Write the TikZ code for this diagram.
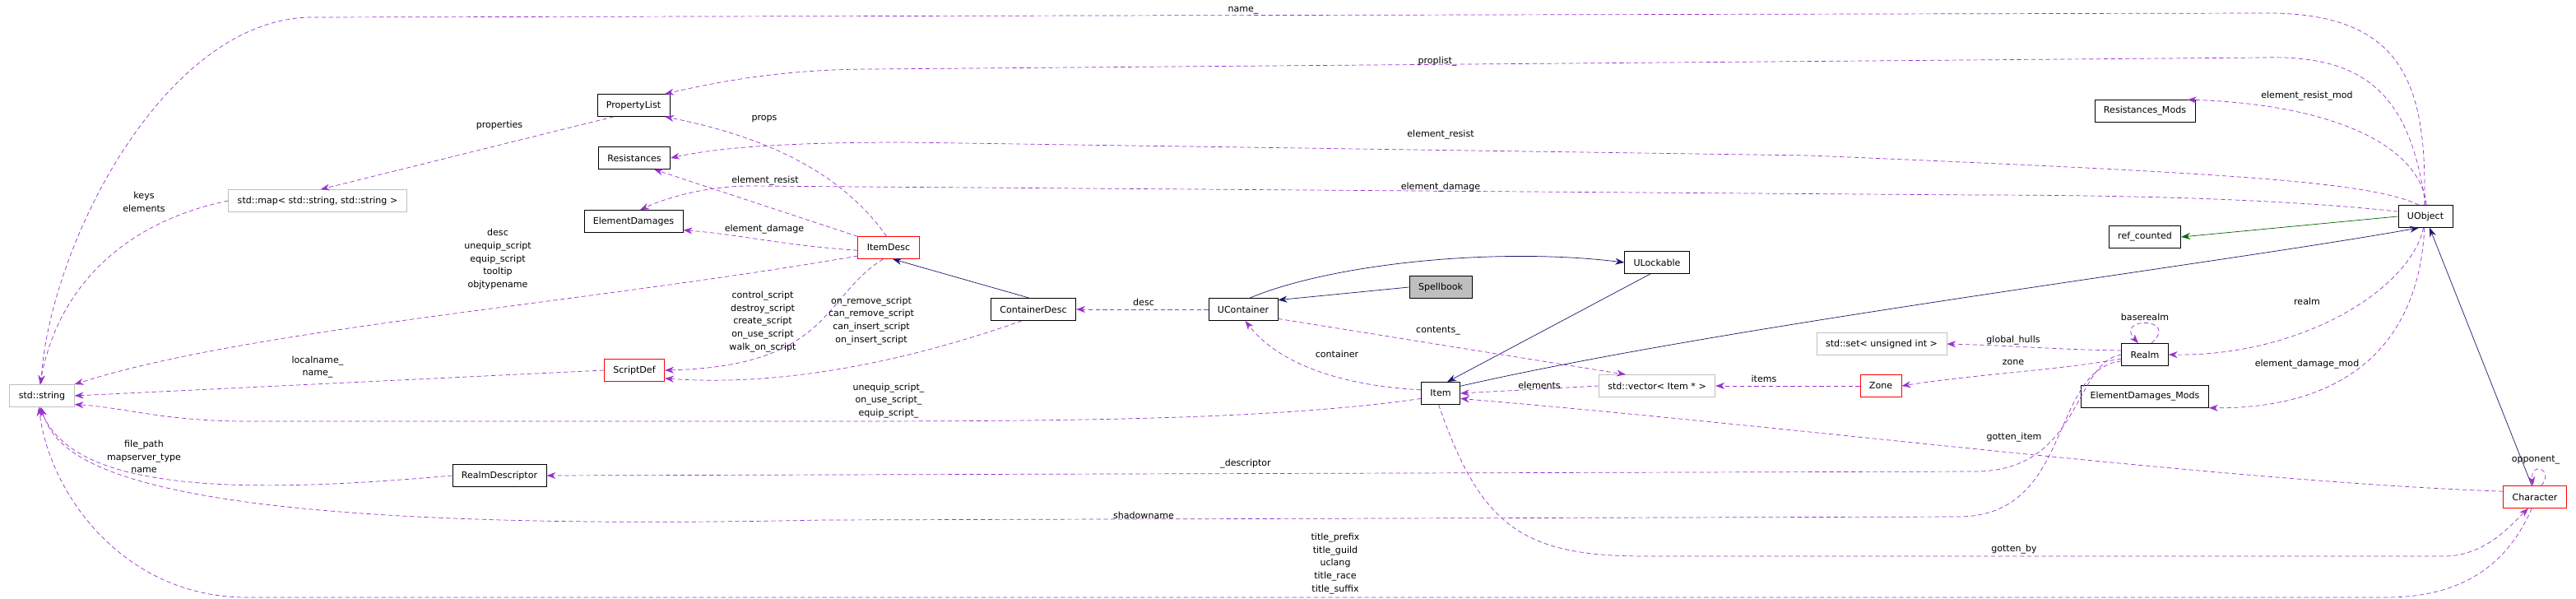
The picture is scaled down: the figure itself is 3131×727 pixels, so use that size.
\documentclass[tikz,border=0pt]{standalone}
\usepackage{fontspec}
\setmainfont{DejaVu Sans}
\usetikzlibrary{arrows.meta}
\definecolor{dep}{HTML}{9A32CD}
\definecolor{inh}{HTML}{191970}
\definecolor{tmpl}{HTML}{006400}
\tikzset{
  box/.style={draw,fill=white,inner xsep=0.22cm,minimum height=0.54cm,font=\fontsize{6.3}{9}\selectfont},
  lbl/.style={align=center,inner sep=0pt,font=\fontsize{6.3}{9}\selectfont},
  uses/.style={dep,dash pattern=on 3pt off 2pt,-{Stealth[length=0.22cm,width=0.16cm]}},
  isa/.style={inh,-{Stealth[length=0.22cm,width=0.16cm]}},
}
\newcommand{\cls}[4]{\node[box] (#1) at (#2,#3) {#4};}
\newcommand{\redcls}[4]{\node[box,draw=red] (#1) at (#2,#3) {#4};}
\newcommand{\stdcls}[4]{\node[box,draw=black!25] (#1) at (#2,#3) {#4};}
\newcommand{\lab}[4]{\node[lbl] (#1) at (#2,#3) {#4};}
\begin{document}
\begin{tikzpicture}[x=0.02cm,y=-0.02cm]
    \useasboundingbox (0,0) rectangle (3131,727);
    \stdcls{stdstring}{51}{481}{std::string}
    \cls{PropertyList}{770}{128}{PropertyList}
    \cls{Resistances}{771}{192}{Resistances}
    \stdcls{stdmap}{386}{244}{std::map< std::string, std::string >}
    \cls{ElementDamages}{770}{269}{ElementDamages}
    \redcls{ItemDesc}{1080}{301}{ItemDesc}
    \redcls{ScriptDef}{771}{450}{ScriptDef}
    \cls{RealmDescriptor}{607}{578}{RealmDescriptor}
    \cls{ContainerDesc}{1256}{376}{ContainerDesc}
    \cls{UContainer}{1511}{376}{UContainer}
    \node[box,fill=black!25] (Spellbook) at (1751,349) {Spellbook};
    \cls{ULockable}{2014}{319}{ULockable}
    \cls{Item}{1751}{478}{Item}
    \stdcls{stdvector}{2014}{469}{std::vector< Item * >}
    \cls{ResistancesMods}{2607}{135}{Resistances\_Mods}
    \cls{UObject}{2948}{263}{UObject}
    \cls{refcounted}{2607}{288}{ref\_counted}
    \stdcls{stdset}{2287}{418}{std::set< unsigned int >}
    \cls{Realm}{2607}{431}{Realm}
    \redcls{Zone}{2286}{469}{Zone}
    \cls{ElementDamagesMods}{2607}{482}{ElementDamages\_Mods}
    \redcls{Character}{3081}{604}{Character}

    % inheritance
    \draw[isa] (ContainerDesc.110) -- (ItemDesc.-70);
    \draw[isa] (UContainer.60) .. controls (1620,320) and (1820,300) .. (ULockable.west);
    \draw[isa] (Spellbook.west) -- (UContainer.15);
    \draw[isa] (ULockable.-120) -- (Item.60);
    \draw[isa] (Item.20) .. controls (2100,395) and (2700,320) .. (UObject.-120);
    \draw[isa] (Character.105) -- (UObject.-70);
    \draw[tmpl,-{Stealth[length=0.22cm,width=0.16cm]}] (UObject.west) -- (refcounted.east);

    % members
    \draw[uses] (UObject.95) .. controls (2950,100) and (2920,14) .. (2750,16) -- (380,21) .. controls (200,21) and (60,300) .. (stdstring.95);
    \draw[uses] (UObject.90) .. controls (2930,120) and (2880,66) .. (2750,70) -- (1060,84) .. controls (950,84) and (870,100) .. (PropertyList.20);
    \draw[uses] (ItemDesc.100) .. controls (1030,220) and (950,170) .. (PropertyList.-20);
    \draw[uses] (stdmap.west) .. controls (150,270) and (70,350) .. (stdstring.100);
    \draw[uses] (PropertyList.-150) -- (stdmap.75);
    \draw[uses] (UObject.120) .. controls (2880,220) and (2700,210) .. (2200,189) -- (1100,173) .. controls (950,173) and (870,180) .. (Resistances.east);
    \draw[uses] (ItemDesc.160) -- (Resistances.-30);
    \draw[uses] (UObject.170) .. controls (2850,250) and (2700,237) .. (2400,237) -- (912,226) .. controls (860,226) and (810,240) .. (ElementDamages.60);
    \draw[uses] (ItemDesc.185) .. controls (950,298) and (900,285) .. (ElementDamages.-10);
    \draw[uses] (ItemDesc.195) .. controls (700,370) and (300,400) .. (stdstring.north east);
    \draw[uses] (ItemDesc.-115) .. controls (1000,360) and (1010,445) .. (ScriptDef.east);
    \draw[uses] (ContainerDesc.-135) .. controls (1100,440) and (950,470) .. (ScriptDef.-15);
    \draw[uses] (ScriptDef.west) -- (stdstring.east);
    \draw[uses] (Item.-165) .. controls (1550,510) and (1300,512) .. (1000,512) -- (300,512) .. controls (200,512) and (150,495) .. (stdstring.-15);
    \draw[uses] (UContainer.west) -- (ContainerDesc.east);
    \draw[uses] (UContainer.-15) -- (stdvector.160);
    \draw[uses] (Item.170) .. controls (1650,470) and (1560,450) .. (UContainer.-80);
    \draw[uses] (stdvector.west) -- (Item.east);
    \draw[uses] (Zone.west) -- (stdvector.east);
    \draw[uses] (Character.170) .. controls (2700,585) and (2200,520) .. (Item.-15);
    \draw[uses] (Realm.west) .. controls (2520,440) and (2530,573) .. (2400,573) -- (RealmDescriptor.east);
    \draw[uses] (Realm.195) .. controls (2490,450) and (2520,628) .. (2380,628) -- (1000,632) .. controls (150,650) and (70,560) .. (stdstring.-95);
    \draw[uses] (RealmDescriptor.west) .. controls (300,600) and (90,600) .. (stdstring.-100);
    \draw[uses] (Realm.170) .. controls (2500,425) and (2450,420) .. (stdset.east);
    \draw[uses] (Realm.190) .. controls (2500,450) and (2400,455) .. (Zone.east);
    \draw[uses] (Realm.60) .. controls (2650,385) and (2570,385) .. (Realm.120);
    \draw[uses] (UObject.-100) .. controls (2930,350) and (2800,433) .. (Realm.east);
    \draw[uses] (UObject.85) .. controls (2940,170) and (2820,126) .. (ResistancesMods.15);
    \draw[uses] (UObject.-95) .. controls (2940,420) and (2850,497) .. (ElementDamagesMods.-10);
    \draw[uses] (Character.60) .. controls (3105,570) and (3075,560) .. (Character.100);
    \draw[uses] (Item.-100) .. controls (1800,640) and (1850,676) .. (2000,676) -- (2970,676) .. controls (3020,676) and (3050,640) .. (Character.-120);
    \draw[uses] (Character.-105) .. controls (3050,680) and (3000,726) .. (2900,726) -- (300,726) .. controls (150,726) and (60,600) .. (stdstring.-105);

    % labels
    \lab{lname}{1511}{13}{name\_}
    \lab{lproplist}{1747}{75}{proplist\_}
    \lab{lprops}{929}{145}{props}
    \lab{lkeys}{175}{245}{keys\\elements}
    \lab{lproperties}{607}{152}{properties}
    \lab{lresist}{1751}{164}{element\_resist}
    \lab{lresistb}{930}{220}{element\_resist}
    \lab{ldamage}{1751}{228}{element\_damage}
    \lab{ldamageb}{929}{279}{element\_damage}
    \lab{ldesc}{605}{315}{desc\\unequip\_script\\equip\_script\\tooltip\\objtypename}
    \lab{lscripts}{927}{391}{control\_script\\destroy\_script\\create\_script\\on\_use\_script\\walk\_on\_script}
    \lab{lcscripts}{1059}{390}{on\_remove\_script\\can\_remove\_script\\can\_insert\_script\\on\_insert\_script}
    \lab{lname2}{386}{446}{localname\_\\name\_}
    \lab{litemscripts}{1080}{487}{unequip\_script\_\\on\_use\_script\_\\equip\_script\_}
    \lab{lcdesc}{1390}{367}{desc}
    \lab{lcontents}{1748}{402}{contents\_}
    \lab{lcontainer}{1625}{430}{container}
    \lab{lelements}{1871}{468}{elements}
    \lab{litems}{2144}{460}{items}
    \lab{lgottenitem}{2448}{532}{gotten\_item}
    \lab{ldescriptor}{1514}{564}{\_descriptor}
    \lab{lshadow}{1390}{626}{shadowname}
    \lab{lfile}{175}{555}{file\_path\\mapserver\_type\\name}
    \lab{lhulls}{2447}{414}{global\_hulls}
    \lab{lzone}{2447}{440}{zone}
    \lab{lbaserealm}{2607}{385}{baserealm}
    \lab{lrealm}{2804}{366}{realm}
    \lab{lresmod}{2804}{117}{element\_resist\_mod}
    \lab{ldammod}{2804}{443}{element\_damage\_mod}
    \lab{lopponent}{3082}{559}{opponent\_}
    \lab{lgottenby}{2448}{668}{gotten\_by}
    \lab{ltitles}{1623}{685}{title\_prefix\\title\_guild\\uclang\\title\_race\\title\_suffix}
\end{tikzpicture}
\end{document}
